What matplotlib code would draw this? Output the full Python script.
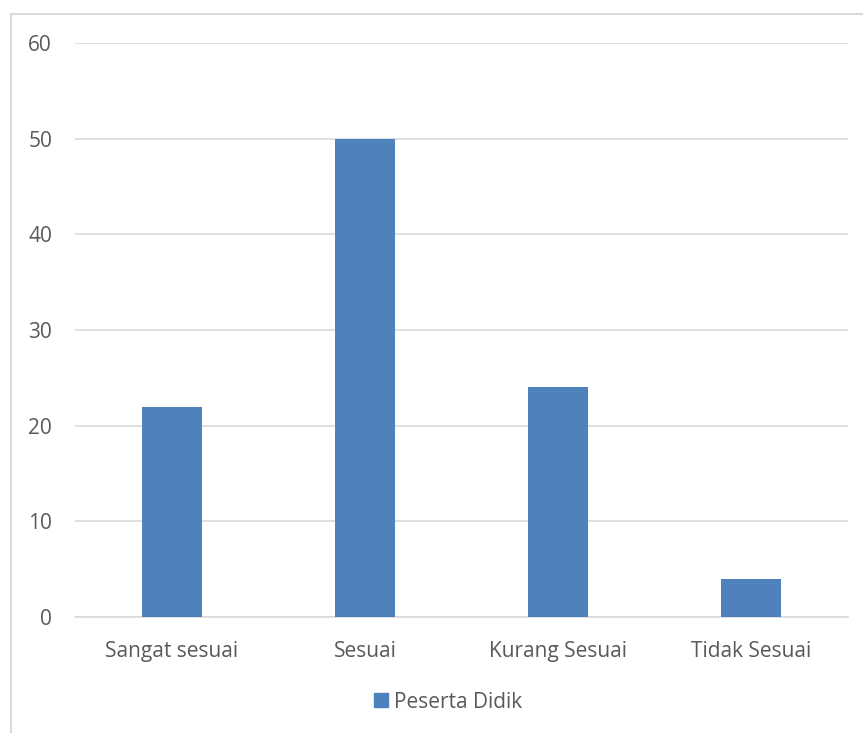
import matplotlib
matplotlib.use("Agg")
import matplotlib.pyplot as plt
from matplotlib.patches import Rectangle, Patch

categories = ["Sangat sesuai", "Sesuai", "Kurang Sesuai", "Tidak Sesuai"]
peserta_didik = [22, 50, 24, 4]
y_ticks = [0, 10, 20, 30, 40, 50, 60]
series_name = "Peserta Didik"

bar_color = "#4F81BD"
text_color = "#595959"
grid_color = "#D9D9D9"

plt.rcParams["font.family"] = ["Open Sans", "DejaVu Sans"]

W, H = 863, 733
fig = plt.figure(figsize=(W / 100, H / 100), dpi=100)

# chart-area border (left and top edges visible)
fig.patches.append(Rectangle((11 / W, -0.1), 1.2, 1 - 14 / H + 0.1,
                             transform=fig.transFigure, fill=False,
                             edgecolor=grid_color, linewidth=1.5))

ax = fig.add_axes([75 / W, 1 - 617 / H, (848 - 75) / W, (617 - 43) / H])
x = list(range(len(categories)))
ax.bar(x, peserta_didik, width=0.31, color=bar_color, zorder=3)
ax.set_xlim(-0.5, len(categories) - 0.5)
ax.set_ylim(0, 60)
ax.set_yticks(y_ticks)
ax.set_xticks(x)
ax.set_xticklabels(categories)
ax.yaxis.grid(True, color=grid_color, linewidth=1.2, zorder=0)
ax.set_axisbelow(True)
for s in ["top", "right", "left"]:
    ax.spines[s].set_visible(False)
ax.spines["bottom"].set_color(grid_color)
ax.spines["bottom"].set_linewidth(1.2)
ax.tick_params(axis="both", length=0, labelsize=15, colors=text_color)
ax.tick_params(axis="y", pad=16.5)
ax.tick_params(axis="x", pad=17)

fig.legend(handles=[Patch(color=bar_color, label=series_name)],
           loc="center", bbox_to_anchor=(448 / W, 1 - 702 / H),
           frameon=False, fontsize=15, labelcolor=text_color,
           handlelength=0.65, handleheight=0.65, handletextpad=0.3)

fig.savefig("out.png", dpi=100)
